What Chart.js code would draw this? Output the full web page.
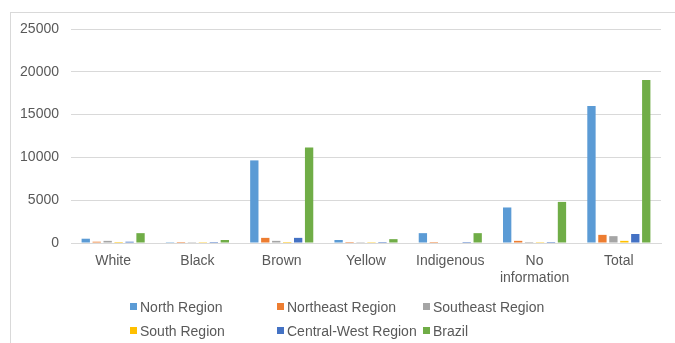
<html>
  <head>
    <title>Cases by race/colour and region - bar chart</title>
    <script src="https://cdn.jsdelivr.net/npm/chart.js@4.4.1/dist/chart.umd.min.js"></script>
  </head>
  <style>
    body {
      margin: 0;
      background: #fff;
      font-family: "Liberation Sans", Arial, sans-serif;
    }
    .wrap {
      position: relative;
      width: 675px;
      height: 343px;
    }
    /* thin frame on top/left like the original export */
    .frame {
      position: absolute;
      left: 10px;
      top: 12px;
      right: 0;
      bottom: 0;
      border-top: 1px solid #d9d9d9;
      border-left: 1px solid #d9d9d9;
      pointer-events: none;
    }
    #legend {
      position: absolute;
      left: 130px;
      top: 298px;
      width: 460px;
      display: grid;
      grid-template-columns: 147px 146px 160px;
      row-gap: 7px;
      font-size: 14px;
      color: #595959;
    }
    #legend .item {
      display: flex;
      align-items: center;
      height: 17px;
      white-space: nowrap;
    }
    #legend .box {
      width: 7px;
      height: 7px;
      margin-right: 3px;
      flex: none;
    }
  </style>
  <body>
    <div class="wrap">
      <canvas id="myChart" width="675" height="343"></canvas>
      <div class="frame"></div>
      <div id="legend"></div>
    </div>
  <script>
    // categories on the x axis
    const categories = ["White", "Black", "Brown", "Yellow", "Indigenous", ["No", "information"], "Total"];

    // values per region
    const northRegion     = [500, 100, 9650, 350, 1150, 4150, 16000];
    const northeastRegion = [150, 120, 600, 120, 120, 250, 950];
    const southeastRegion = [250, 100, 250, 100, 0, 120, 800];
    const southRegion     = [120, 100, 120, 100, 0, 100, 250];
    const centralWest     = [150, 120, 600, 120, 120, 120, 1050];
    const brazil          = [1150, 350, 11150, 450, 1150, 4800, 19050];

    const yTicks = [0, 5000, 10000, 15000, 20000, 25000];

    const COLORS = {
      north: "#5B9BD5",
      northeast: "#ED7D31",
      southeast: "#A5A5A5",
      south: "#FFC000",
      centralWest: "#4472C4",
      brazil: "#70AD47",
    };

    const mk = (label, values, color) => ({
      label,
      data: values,
      backgroundColor: color,
      borderWidth: 0,
      categoryPercentage: 0.78,
      barPercentage: 0.76,
    });

    const data = {
      labels: categories,
      datasets: [
        mk("North Region", northRegion, COLORS.north),
        mk("Northeast Region", northeastRegion, COLORS.northeast),
        mk("Southeast Region", southeastRegion, COLORS.southeast),
        mk("South Region", southRegion, COLORS.south),
        mk("Central-West Region", centralWest, COLORS.centralWest),
        mk("Brazil", brazil, COLORS.brazil),
      ],
    };

    const tickFont = { family: "'Liberation Sans', Arial, sans-serif", size: 14 };

    const config = {
      type: "bar",
      data,
      options: {
        responsive: false,
        animation: false,
        layout: { padding: { left: 20, right: 14, top: 29, bottom: 50 } },
        plugins: {
          legend: { display: false },
          tooltip: { enabled: false },
        },
        scales: {
          x: {
            grid: { display: false, drawTicks: false },
            border: { display: true, color: "#d9d9d9", width: 1 },
            ticks: {
              color: "#595959",
              font: tickFont,
              padding: 10,
              maxRotation: 0,
              autoSkip: false,
            },
            afterFit: (scale) => { scale.height = 50; },
          },
          y: {
            min: 0,
            max: 25000,
            afterBuildTicks: (scale) => {
              scale.ticks = yTicks.map((v) => ({ value: v }));
            },
            grid: { color: "#d9d9d9", drawTicks: false },
            border: { display: false },
            ticks: {
              color: "#595959",
              font: tickFont,
              padding: 12,
              callback: (v) => String(v),
            },
            afterFit: (scale) => { scale.width = 51; },
          },
        },
      },
    };

    const ctx = document.getElementById("myChart");
    const myChart = new Chart(ctx, config);

    // html legend in a fixed 3-column grid, like the source
    const legendEl = document.getElementById("legend");
    myChart.data.datasets.forEach((ds) => {
      const item = document.createElement("div");
      item.className = "item";
      const box = document.createElement("span");
      box.className = "box";
      box.style.background = ds.backgroundColor;
      const txt = document.createElement("span");
      txt.textContent = ds.label;
      item.appendChild(box);
      item.appendChild(txt);
      legendEl.appendChild(item);
    });
  </script>
  </body>
</html>
